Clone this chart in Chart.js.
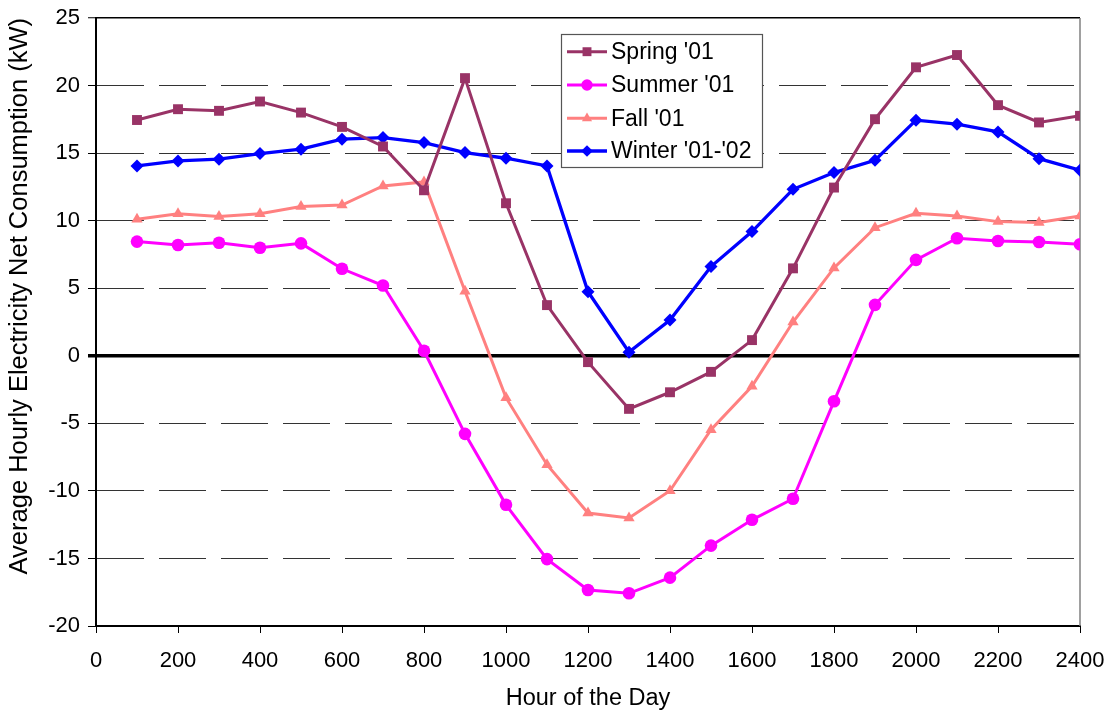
<!DOCTYPE html>
<html>
<head>
<meta charset="utf-8">
<script src="https://cdn.jsdelivr.net/npm/chart.js@4/dist/chart.umd.min.js"></script>
<style>
  html, body { margin: 0; padding: 0; background: #ffffff; }
  #wrap { width: 1110px; height: 714px; }
</style>
</head>
<body>
<div id="wrap"><canvas id="c" width="1110" height="714"></canvas></div>
<script>
// ---- data ----
const hours = [100, 200, 300, 400, 500, 600, 700, 800, 900, 1000, 1100, 1200,
               1300, 1400, 1500, 1600, 1700, 1800, 1900, 2000, 2100, 2200, 2300, 2400];
const seriesNames = ["Spring '01", "Summer '01", "Fall '01", "Winter '01-'02"];
const spring = [17.45, 18.25, 18.13, 18.82, 18.0, 16.94, 15.49, 12.25, 20.55, 11.29, 3.75, -0.47,
                -3.93, -2.70, -1.19, 1.16, 6.47, 12.45, 17.51, 21.35, 22.26, 18.55, 17.27, 17.76];
const summer = [8.45, 8.2, 8.37, 8.0, 8.32, 6.44, 5.2, 0.37, -5.78, -11.03, -15.05, -17.33,
                -17.58, -16.42, -14.05, -12.14, -10.58, -3.37, 3.77, 7.1, 8.7, 8.49, 8.42, 8.25];
const fall = [10.1, 10.52, 10.3, 10.52, 11.04, 11.16, 12.57, 12.87, 4.78, -3.1, -8.06, -11.64,
              -12.01, -9.99, -5.47, -2.26, 2.5, 6.5, 9.48, 10.54, 10.34, 9.93, 9.86, 10.34];
const winter = [14.05, 14.42, 14.55, 14.97, 15.29, 16.03, 16.15, 15.78, 15.04, 14.62, 14.05, 4.74,
                0.27, 2.64, 6.6, 9.19, 12.32, 13.56, 14.47, 17.44, 17.14, 16.57, 14.59, 13.73];
const xTicks = {min: 0, max: 2400, step: 200};
const yTicks = {min: -20, max: 25, step: 5};
const xTitle = "Hour of the Day";
const yTitle = "Average Hourly Electricity Net Consumption (kW)";

const FONT = "'Liberation Sans', Arial, sans-serif";

function pts(vals) { return hours.map((h, i) => ({x: h, y: vals[i]})); }

const styles = [
  {color: '#993366', pointStyle: 'rect', radius: 7, width: 3},
  {color: '#FF00FF', pointStyle: 'circle', radius: 6.3, width: 3},
  {color: '#FF8080', pointStyle: 'triangle', radius: 6.5, width: 3},
  {color: '#0000FF', pointStyle: 'rectRot', radius: 6.5, width: 3.3}
];
const allSeries = [spring, summer, fall, winter];

const datasets = allSeries.map((vals, i) => ({
  label: seriesNames[i],
  data: pts(vals),
  borderColor: styles[i].color,
  backgroundColor: styles[i].color,
  borderWidth: styles[i].width,
  pointStyle: styles[i].pointStyle,
  pointRadius: styles[i].radius,
  pointHoverRadius: styles[i].radius,
  pointBorderWidth: 0,
  pointBackgroundColor: styles[i].color,
  pointBorderColor: styles[i].color,
  tension: 0,
  fill: false
}));

const isSolid = (c) => c.tick && (c.tick.value === 0 || c.tick.value === 25 || c.tick.value === -20);

// right border of plot area + in-plot legend
const framePlugin = {
  id: 'frame',
  beforeDatasetsDraw(chart) {
    const {ctx, chartArea} = chart;
    ctx.save();
    ctx.strokeStyle = '#808080';
    ctx.lineWidth = 1.5;
    ctx.beginPath();
    ctx.moveTo(chartArea.right, chartArea.top);
    ctx.lineTo(chartArea.right, chartArea.bottom);
    ctx.stroke();
    ctx.restore();
  },
  afterDraw(chart) {
    const {ctx} = chart;
    const box = {x: 561, y: 34, w: 201, h: 133};
    ctx.save();
    ctx.fillStyle = '#ffffff';
    ctx.fillRect(box.x, box.y, box.w, box.h);
    ctx.strokeStyle = '#555555';
    ctx.lineWidth = 1.2;
    ctx.strokeRect(box.x + 0.5, box.y + 0.5, box.w, box.h);
    const rowY = [51.7, 85, 118.3, 151];
    chart.data.datasets.forEach((ds, i) => {
      const y = rowY[i];
      ctx.strokeStyle = ds.borderColor;
      ctx.lineWidth = ds.borderWidth;
      ctx.beginPath();
      ctx.moveTo(567, y);
      ctx.lineTo(607, y);
      ctx.stroke();
      ctx.fillStyle = ds.pointBackgroundColor;
      ctx.strokeStyle = ds.pointBackgroundColor;
      Chart.helpers.drawPoint(ctx, {pointStyle: ds.pointStyle, radius: ds.pointRadius * 0.9, rotation: 0, borderWidth: 0}, 587, y);
      ctx.fillStyle = '#000000';
      ctx.font = '23px ' + FONT;
      ctx.textBaseline = 'middle';
      ctx.textAlign = 'left';
      ctx.fillText(ds.label, 611, y + 1);
    });
    ctx.restore();
  }
};

new Chart(document.getElementById('c'), {
  type: 'line',
  data: {datasets},
  plugins: [framePlugin],
  options: {
    responsive: false,
    animation: false,
    events: [],
    layout: {padding: {top: 18, right: 30, left: 0, bottom: 0}},
    plugins: {legend: {display: false}, tooltip: {enabled: false}},
    scales: {
      x: {
        type: 'linear',
        min: xTicks.min, max: xTicks.max,
        ticks: {stepSize: xTicks.step, color: '#000', font: {family: FONT, size: 22}, padding: 15, maxRotation: 0, autoSkip: false,
                callback: (v) => String(v)},
        grid: {drawOnChartArea: false, drawTicks: true, tickLength: 7, tickColor: '#000', tickWidth: 1},
        border: {display: true, color: '#000', width: 2},
        title: {display: true, text: xTitle, color: '#000', font: {family: FONT, size: 23.5}, padding: {top: 2, bottom: 1}},
        afterFit(scale) { scale.height = 88; scale.paddingRight = 0; scale.paddingLeft = 0; }
      },
      y: {
        type: 'linear',
        min: yTicks.min, max: yTicks.max,
        ticks: {stepSize: yTicks.step, color: '#000', font: {family: FONT, size: 22}, padding: 8,
                callback: (v) => String(v)},
        grid: {
          drawTicks: true,
          tickLength: 8,
          color: (c) => (c.tick && (c.tick.value === 0 || c.tick.value === 25)) ? '#000' : '#333',
          lineWidth: (c) => (c.tick && c.tick.value === 0) ? 3.5 : (c.tick && c.tick.value === 25 ? 1.5 : 1),
          tickColor: '#000',
          tickWidth: (c) => (c.tick && c.tick.value === 0) ? 3.5 : 1
        },
        border: {display: true, color: '#000', width: 2,
                 dash: (c) => (c.tick && !isSolid(c)) ? [47, 15] : []},
        title: {display: true, text: yTitle, align: 'end', color: '#000', font: {family: FONT, size: 25.5}, padding: {top: 5, bottom: 2}},
        afterFit(scale) { scale.width = 96; scale.paddingTop = 0; scale.paddingBottom = 0; }
      }
    }
  }
});
</script>
</body>
</html>
